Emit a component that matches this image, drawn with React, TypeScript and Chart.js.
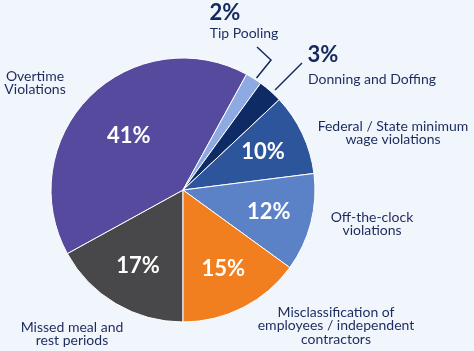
import React, { useEffect, useRef } from "react";
import { Chart, registerables } from "chart.js";

Chart.register(...registerables);

const categories = [
  "Missed meal and rest periods",
  "Overtime Violations",
  "Tip Pooling",
  "Donning and Doffing",
  "Federal / State minimum wage violations",
  "Off-the-clock violations",
  "Misclassification of employees / independent contractors",
];
const values = [17, 41, 2, 3, 10, 12, 15];
const colors = ["#48484A", "#554A9E", "#8DAAE2", "#0E2B66", "#2D559C", "#5B82C7", "#F27F1F"];
const labelLines = [
  ["Missed meal and", "rest periods"],
  ["Overtime", "Violations"],
  ["Tip Pooling"],
  ["Donning and Doffing"],
  ["Federal / State minimum", "wage violations"],
  ["Off-the-clock", "violations"],
  ["Misclassification of", "employees / independent", "contractors"],
];

const BG = "#F1F5FC";
const NAVY = "#1C2B5E";
const FONT = "Lato, 'Open Sans', sans-serif";

// label anchor layout (centres of text blocks)
const outsideLayout = [
  { x: 72, y: 327 },
  { x: 35, y: 76 },
  { x: 244, y: 33, pct: { x: 225, y: 13 } },
  { x: 372, y: 79, pct: { x: 323, y: 55 } },
  { x: 393, y: 126 },
  { x: 372, y: 217 },
  { x: 336, y: 312 },
];

const leaderLines = [
  [[256.5, 78], [271, 60], [257, 47]],
  [[275, 90], [302, 63]],
];

const labelPlugin = {
  id: "labels",
  beforeDraw(chart: any) {
    const { ctx, width, height } = chart;
    ctx.save();
    ctx.fillStyle = BG;
    ctx.fillRect(0, 0, width, height);
    ctx.restore();
  },
  afterDatasetsDraw(chart: any) {
    const { ctx } = chart;
    const meta = chart.getDatasetMeta(0);
    ctx.save();
    ctx.textAlign = "center";
    ctx.textBaseline = "middle";
    // inside percentages
    meta.data.forEach((arc: any, i: number) => {
      const v = values[i];
      if (v < 10) return;
      const { x, y, startAngle, endAngle, outerRadius } = arc.getProps(
        ["x", "y", "startAngle", "endAngle", "outerRadius"],
        true
      );
      const mid = (startAngle + endAngle) / 2;
      const r = outerRadius * (v > 30 ? 0.58 : 0.67);
      ctx.fillStyle = "#FFFFFF";
      ctx.font = `bold 22px ${FONT}`;
      ctx.fillText(`${v}%`, x + Math.cos(mid) * r, y + Math.sin(mid) * r);
    });
    // outside labels
    labelLines.forEach((lines, i) => {
      const pos = outsideLayout[i];
      ctx.fillStyle = NAVY;
      ctx.font = `14px ${FONT}`;
      lines.forEach((ln, j) => {
        ctx.fillText(ln, pos.x, pos.y + j * 13.6);
      });
      if (pos.pct) {
        ctx.fillStyle = "#13285C";
        ctx.font = `bold 22px ${FONT}`;
        ctx.fillText(`${values[i]}%`, pos.pct.x, pos.pct.y);
      }
    });
    // leader lines
    ctx.strokeStyle = "#13285C";
    ctx.lineWidth = 1.5;
    leaderLines.forEach((pts) => {
      ctx.beginPath();
      pts.forEach((p, k) => (k === 0 ? ctx.moveTo(p[0], p[1]) : ctx.lineTo(p[0], p[1])));
      ctx.stroke();
    });
    ctx.restore();
  },
};

export default function App() {
  const ref = useRef<HTMLCanvasElement | null>(null);
  useEffect(() => {
    if (!ref.current) return;
    const chart = new Chart(ref.current, {
      type: "pie",
      data: {
        labels: categories,
        datasets: [
          {
            data: values,
            backgroundColor: colors,
            borderColor: "#FFFFFF",
            borderWidth: 1,
          },
        ],
      },
      options: {
        responsive: false,
        animation: false,
        rotation: 180,
        radius: 132,
        layout: { padding: { left: 51, right: 159, top: 58, bottom: 29 } },
        plugins: { legend: { display: false }, tooltip: { enabled: false } },
      },
      plugins: [labelPlugin],
    });
    return () => chart.destroy();
  }, []);
  return (
    <div style={{ position: "fixed", left: 0, top: 0, width: 474, height: 351 }}>
      <canvas ref={ref} width={474} height={351} style={{ display: "block" }} />
    </div>
  );
}
